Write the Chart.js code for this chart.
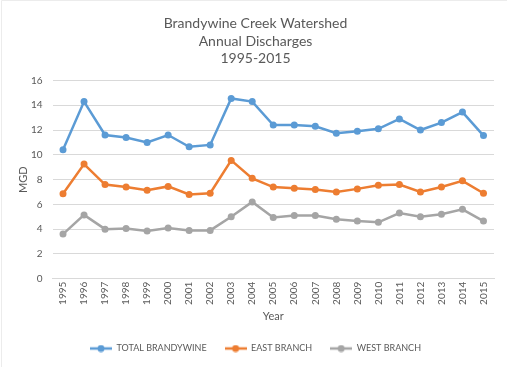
<!DOCTYPE html>
<html>
<head>
<meta charset="utf-8">
<script src="https://cdn.jsdelivr.net/npm/chart.js@4"></script>
<style>
  html, body { margin: 0; padding: 0; background: #fff; }
  #wrap { width: 507px; height: 367px; }
</style>
</head>
<body>
<div id="wrap"><canvas id="chart" width="507" height="367"></canvas></div>
<script>
// data
const years = ['1995','1996','1997','1998','1999','2000','2001','2002','2003','2004','2005',
               '2006','2007','2008','2009','2010','2011','2012','2013','2014','2015'];
const totalBrandywine = [10.4, 14.3, 11.6, 11.4, 11.0, 11.6, 10.65, 10.8, 14.55, 14.3, 12.4,
                         12.4, 12.3, 11.75, 11.9, 12.1, 12.9, 12.0, 12.6, 13.45, 11.55];
const eastBranch = [6.85, 9.25, 7.6, 7.4, 7.15, 7.45, 6.8, 6.9, 9.55, 8.1, 7.4,
                    7.3, 7.2, 7.0, 7.25, 7.55, 7.6, 7.0, 7.4, 7.9, 6.9];
const westBranch = [3.6, 5.15, 4.0, 4.05, 3.85, 4.1, 3.9, 3.9, 5.0, 6.2, 4.95,
                    5.1, 5.1, 4.8, 4.65, 4.55, 5.3, 5.0, 5.2, 5.6, 4.65];
const yTicks = [0, 2, 4, 6, 8, 10, 12, 14, 16];

const textColor = '#595959';
const gridColor = '#d9d9d9';
const fontFamily = 'Lato, "Open Sans", sans-serif';

// little line+dot swatch for the legend
function swatch(color) {
    const c = document.createElement('canvas');
    c.width = 22; c.height = 8;
    const g = c.getContext('2d');
    g.strokeStyle = color;
    g.lineWidth = 2.5;
    g.beginPath(); g.moveTo(0, 4); g.lineTo(22, 4); g.stroke();
    g.fillStyle = color;
    g.beginPath(); g.arc(11, 4, 3.5, 0, Math.PI * 2); g.fill();
    return c;
}

function series(label, data, color) {
    return {
        label: label,
        data: data,
        borderColor: color,
        backgroundColor: color,
        borderWidth: 2.5,
        pointRadius: 3.5,
        pointHoverRadius: 3.5,
        pointBackgroundColor: color,
        pointBorderWidth: 0,
        tension: 0,
        legendSwatch: swatch(color)
    };
}

const frame = {
    id: 'frame',
    beforeDraw(chart) {
        const ctx = chart.ctx;
        ctx.save();
        ctx.fillStyle = '#fff';
        ctx.fillRect(0, 0, chart.width, chart.height);
        ctx.strokeStyle = '#ececec';
        ctx.lineWidth = 1;
        ctx.beginPath();
        ctx.moveTo(1.5, chart.height); ctx.lineTo(1.5, 0.5); ctx.lineTo(chart.width, 0.5);
        ctx.stroke();
        ctx.restore();
    }
};

new Chart(document.getElementById('chart'), {
    type: 'line',
    data: {
        labels: years,
        datasets: [
            series('TOTAL BRANDYWINE', totalBrandywine, '#5b9bd5'),
            series('EAST BRANCH', eastBranch, '#ed7d31'),
            series('WEST BRANCH', westBranch, '#a5a5a5')
        ]
    },
    options: {
        responsive: false,
        animation: false,
        layout: { padding: { left: 17, right: 13, top: 0, bottom: 4 } },
        plugins: {
            title: {
                display: true,
                text: ['Brandywine Creek Watershed', 'Annual Discharges', '1995-2015'],
                color: textColor,
                font: { family: fontFamily, size: 14, weight: 'normal', lineHeight: 1.25 },
                padding: { top: 15, bottom: 13 }
            },
            legend: {
                position: 'bottom',
                labels: {
                    color: textColor,
                    font: { family: fontFamily, size: 9 },
                    usePointStyle: true,
                    pointStyleWidth: 22,
                    padding: 18,
                    generateLabels(chart) {
                        return chart.data.datasets.map((ds, i) => ({
                            text: ds.label,
                            fontColor: textColor,
                            pointStyle: ds.legendSwatch,
                            datasetIndex: i,
                            hidden: false,
                            lineWidth: 0
                        }));
                    }
                }
            },
            tooltip: { enabled: false }
        },
        scales: {
            x: {
                offset: true,
                grid: { display: false, drawTicks: false },
                border: { color: gridColor },
                ticks: {
                    color: textColor,
                    font: { family: fontFamily, size: 10 },
                    minRotation: 90,
                    maxRotation: 90,
                    padding: 3,
                    autoSkip: false
                },
                title: {
                    display: true,
                    text: 'Year',
                    color: textColor,
                    font: { family: fontFamily, size: 11 },
                    padding: { top: 0, bottom: 3 }
                },
                afterFit(scale) { scale.height = 47.3; }
            },
            y: {
                min: 0,
                max: 16,
                afterBuildTicks(scale) { scale.ticks = yTicks.map(v => ({ value: v })); },
                grid: { color: gridColor, drawTicks: false },
                border: { display: false },
                ticks: {
                    color: textColor,
                    font: { family: fontFamily, size: 10 },
                    padding: 10
                },
                title: {
                    display: true,
                    text: 'MGD',
                    color: textColor,
                    font: { family: fontFamily, size: 11 },
                    padding: { top: 0, bottom: 0 }
                },
                afterFit(scale) { scale.width = 35.5; }
            }
        }
    },
    plugins: [frame]
});
</script>
</body>
</html>
